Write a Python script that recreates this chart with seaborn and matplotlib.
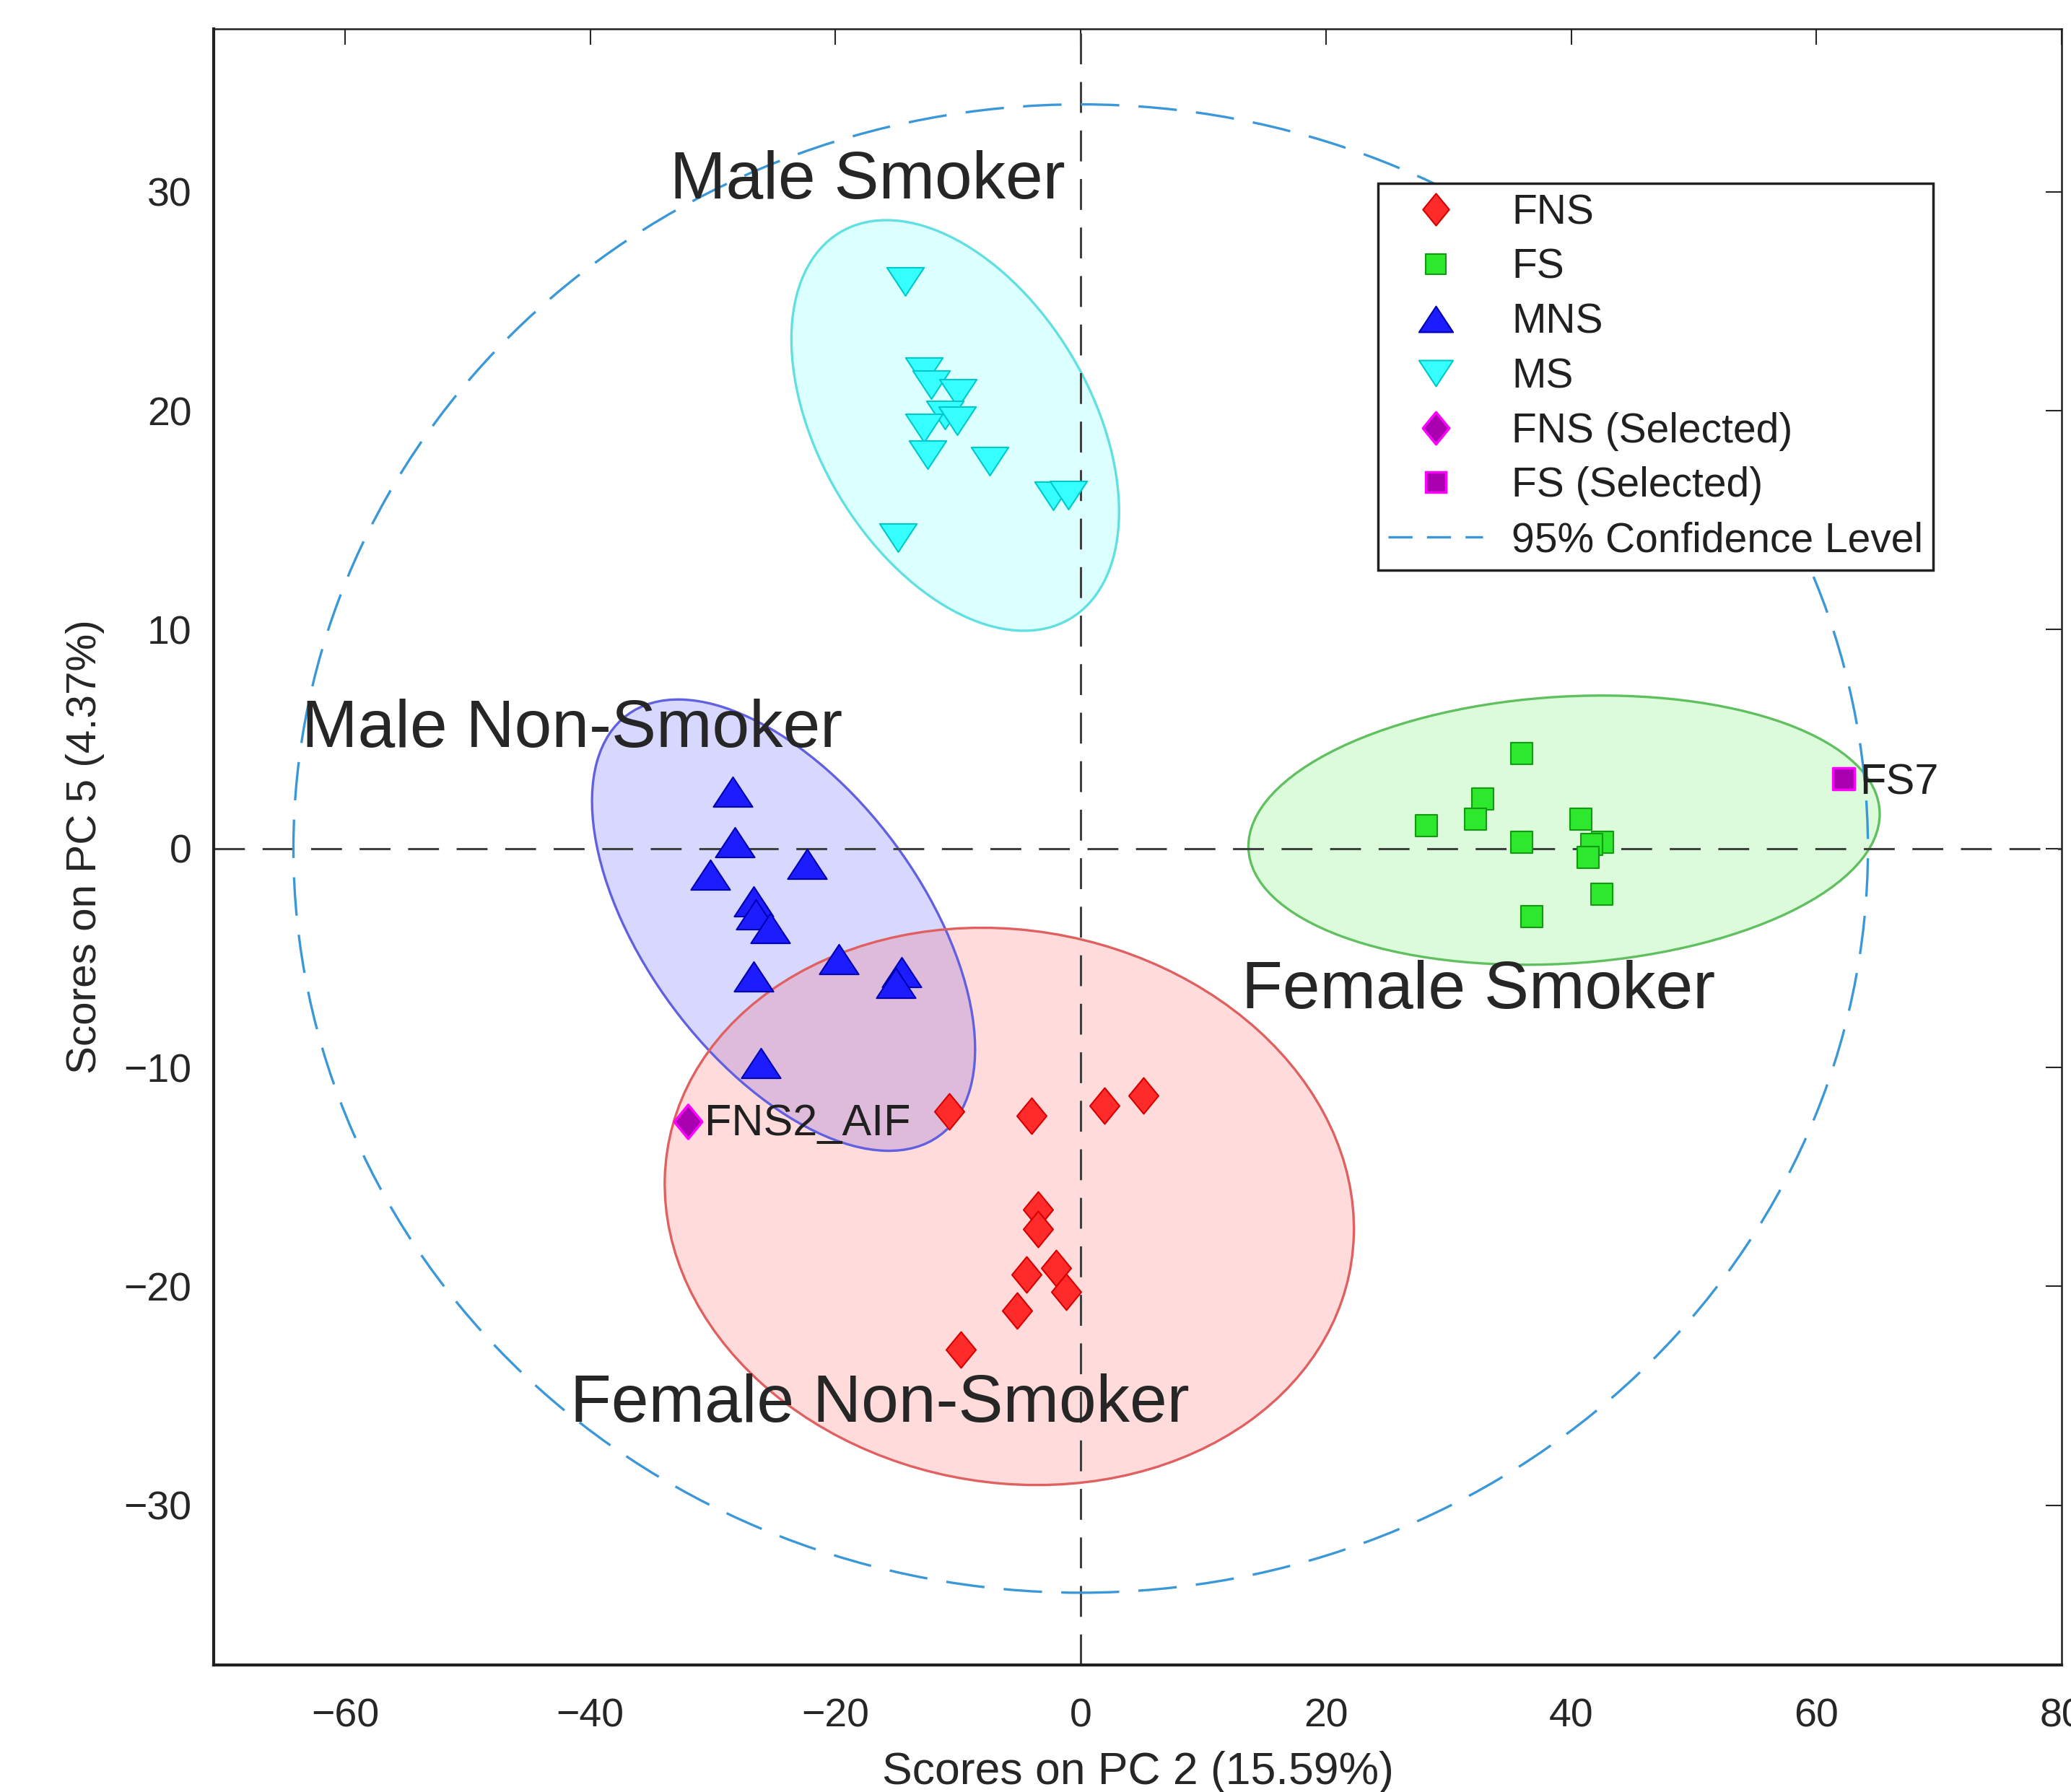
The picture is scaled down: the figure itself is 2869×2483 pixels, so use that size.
import numpy as np
import pandas as pd
import seaborn as sns
import matplotlib.pyplot as plt
from matplotlib.patches import Ellipse
from matplotlib.lines import Line2D
from matplotlib.path import Path
from matplotlib.markers import MarkerStyle

# PCA scores (PC 2, PC 5)
fns_x = [-10.7, -4.0, 1.95, 5.1, -3.45, -3.45, -4.4, -2.0, -1.2, -5.2, -9.8]
fns_y = [-12.0, -12.2, -11.75, -11.3, -16.5, -17.4, -19.45, -19.15, -20.25, -21.1, -22.9]
fs_x = [35.95, 32.8, 32.2, 28.2, 40.8, 35.95, 42.55, 41.65, 41.4, 42.5, 36.8]
fs_y = [4.35, 2.27, 1.34, 1.06, 1.34, 0.3, 0.3, 0.18, -0.42, -2.07, -3.1]
mns_x = [-28.4, -28.2, -30.2, -22.3, -26.7, -26.5, -25.3, -19.7, -14.6, -15.1, -26.7, -26.1]
mns_y = [2.6, 0.3, -1.2, -0.7, -2.4, -3.0, -3.65, -5.05, -5.65, -6.15, -5.85, -9.8]
ms_x = [-14.3, -12.8, -12.2, -10.0, -11.1, -10.05, -12.8, -12.5, -7.4, -2.25, -1.0, -14.9]
ms_y = [25.9, 21.8, 21.2, 20.8, 19.8, 19.55, 19.2, 18.0, 17.7, 16.1, 16.15, 14.2]
fns_sel_x, fns_sel_y = [-32.05], [-12.47]
fs_sel_x, fs_sel_y = [62.2], [3.2]

# group ellipses: centre, half-extent in x / y, correlation
ell_groups = ["MS", "MNS", "FS", "FNS"]
ell_cx = [-10.23, -24.23, 39.42, -5.82]
ell_cy = [19.33, -3.5, 0.84, -16.35]
ell_hx = [13.36, 15.62, 25.74, 28.1]
ell_hy = [9.38, 10.31, 6.15, 12.73]
ell_rho = [-0.42, -0.55, 0.12, -0.08]
# 95% confidence level ellipse (semi-axes)
conf_a, conf_b = 64.2, 34.0

colors = {"FNS": "#ff2a2a", "FS": "#2ee82e", "MNS": "#1c1cff", "MS": "#35ffff"}
edges = {"FNS": "#d40000", "FS": "#139a13", "MNS": "#0000b0", "MS": "#00c8c8"}
ell_edges = {"FNS": "#e06060", "FS": "#60c060", "MNS": "#6060e0", "MS": "#60e0e0"}

sns.set_theme(style="white")
plt.rcParams["font.family"] = ["Liberation Sans", "DejaVu Sans"]

fig = plt.figure(figsize=(28.69, 24.83), dpi=100)
ax = fig.add_axes([0.1032, 0.0709, 0.8923, 0.9130])

# ellipses
for g, cx, cy, hx, hy, r in zip(ell_groups, ell_cx, ell_cy, ell_hx, ell_hy, ell_rho):
    cov = np.array([[hx**2, r*hx*hy], [r*hx*hy, hy**2]])
    vals, vecs = np.linalg.eigh(cov)
    ang = np.degrees(np.arctan2(vecs[1, 1], vecs[0, 1]))
    ax.add_patch(Ellipse((cx, cy), 2*np.sqrt(vals[1]), 2*np.sqrt(vals[0]), angle=ang,
                         facecolor=colors[g], alpha=0.17, edgecolor="none", zorder=1))
    ax.add_patch(Ellipse((cx, cy), 2*np.sqrt(vals[1]), 2*np.sqrt(vals[0]), angle=ang,
                         facecolor="none", edgecolor=ell_edges[g], lw=2.4, zorder=1.5))

ax.axhline(0, color="#404040", lw=2.2, dashes=(14, 8), zorder=2)
ax.axvline(0, color="#404040", lw=2.2, dashes=(14, 8), zorder=2)

ax.add_patch(Ellipse((0, 0), 2*conf_a, 2*conf_b, facecolor="none", edgecolor="#3a98d8",
                     lw=2.4, linestyle=(0, (16, 8)), zorder=2.5))

diamond = MarkerStyle(Path([(0, 1), (0.82, 0), (0, -1), (-0.82, 0), (0, 1)], closed=True))
tri_up = MarkerStyle(Path([(0, 0.76), (1, -0.76), (-1, -0.76), (0, 0.76)], closed=True))
tri_dn = MarkerStyle(Path([(0, -0.76), (1, 0.76), (-1, 0.76), (0, -0.76)], closed=True))

sns.scatterplot(x=fns_x, y=fns_y, ax=ax, marker=diamond, s=36**2, color=colors["FNS"],
                edgecolor=edges["FNS"], linewidth=1.5, zorder=3)
sns.scatterplot(x=fs_x, y=fs_y, ax=ax, marker="s", s=22**2, color=colors["FS"],
                edgecolor=edges["FS"], linewidth=1.5, zorder=3)
sns.scatterplot(x=mns_x, y=mns_y, ax=ax, marker=tri_up, s=39**2, color=colors["MNS"],
                edgecolor=edges["MNS"], linewidth=1.5, zorder=3)
sns.scatterplot(x=ms_x, y=ms_y, ax=ax, marker=tri_dn, s=37**2, color=colors["MS"],
                edgecolor=edges["MS"], linewidth=1.5, zorder=3)
sns.scatterplot(x=fns_sel_x, y=fns_sel_y, ax=ax, marker=diamond, s=34**2, color="#a800b0",
                edgecolor="#ff00ff", linewidth=2.5, zorder=3)
sns.scatterplot(x=fs_sel_x, y=fs_sel_y, ax=ax, marker="s", s=22**2, color="#a800b0",
                edgecolor="#ff00ff", linewidth=2.5, zorder=3)

# labels
ax.text(-30.7, -12.6, "FNS2_AIF", fontsize=44, color="#202020", ha="left", va="center", zorder=4)
ax.text(63.5, 3.0, "FS7", fontsize=43, color="#202020", ha="left", va="center", zorder=4)
ax.text(-33.5, 29.7, "Male Smoker", fontsize=67, ha="left", va="baseline", zorder=4)
ax.text(-63.55, 4.64, "Male Non-Smoker", fontsize=67, ha="left", va="baseline", zorder=4)
ax.text(13.1, -7.3, "Female Smoker", fontsize=67, ha="left", va="baseline", zorder=4)
ax.text(-41.6, -26.2, "Female Non-Smoker", fontsize=67, ha="left", va="baseline", zorder=4)

ax.set_xlim(-70.7, 80)
ax.set_ylim(-37.3, 37.45)
ax.set_xticks(range(-60, 81, 20))
ax.set_yticks(range(-30, 31, 10))
ax.tick_params(axis="both", direction="in", length=16, width=1.5, labelsize=40,
               colors="#262626", top=True, right=True)
ax.tick_params(axis="x", pad=33)
ax.tick_params(axis="y", pad=22)
for side, sp in ax.spines.items():
    sp.set_color("#202020")
    sp.set_linewidth(3 if side in ("left", "bottom") else 1.8)
ax.set_xlabel("Scores on PC 2 (15.59%)", fontsize=45, color="#262626", labelpad=15)
ax.set_ylabel("Scores on PC 5 (4.37%)", fontsize=42, color="#262626", labelpad=19)

handles = [
    Line2D([], [], ls="none", marker=diamond, ms=32, mfc=colors["FNS"], mec=edges["FNS"], mew=1.5),
    Line2D([], [], ls="none", marker="s", ms=20, mfc=colors["FS"], mec=edges["FS"], mew=1.5),
    Line2D([], [], ls="none", marker=tri_up, ms=34, mfc=colors["MNS"], mec=edges["MNS"], mew=1.5),
    Line2D([], [], ls="none", marker=tri_dn, ms=34, mfc=colors["MS"], mec=edges["MS"], mew=1.5),
    Line2D([], [], ls="none", marker=diamond, ms=32, mfc="#a800b0", mec="#ff00ff", mew=2.5),
    Line2D([], [], ls="none", marker="s", ms=20, mfc="#a800b0", mec="#ff00ff", mew=2.5),
    Line2D([], [], color="#3a98d8", lw=2.4, dashes=(10, 6)),
]
labels = ["FNS", "FS", "MNS", "MS", "FNS (Selected)", "FS (Selected)", "95% Confidence Level"]
leg = ax.legend(handles, labels, loc="upper left", bbox_to_anchor=(0.630, 0.9056),
                fontsize=41, frameon=True, fancybox=False, framealpha=1, borderpad=0.25,
                labelspacing=0.38, handlelength=2.3, handletextpad=0.7, borderaxespad=0)
leg.get_frame().set_edgecolor("#202020")
leg.get_frame().set_linewidth(2.5)
for t in leg.get_texts():
    t.set_color("#202020")
leg.set_zorder(5)

fig.savefig("out.png", dpi=100)
